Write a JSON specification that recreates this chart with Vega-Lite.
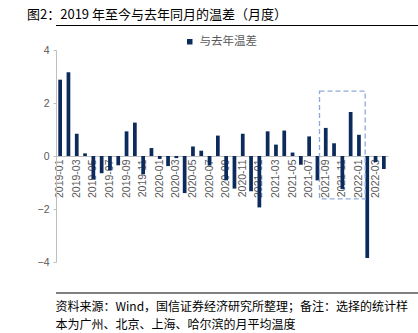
{
  "$schema": "https://vega.github.io/schema/vega-lite/v6.json",
  "padding": {"left": 27, "top": 9, "right": 0, "bottom": 0},
  "spacing": 17,
  "title": {"text": "图2：2019 年至今与去年同月的温差（月度）", "anchor": "start", "fontSize": 13, "offset": 2, "font": "Noto Sans CJK SC", "fontWeight": "normal", "color": "#000000"},
  "config": {
    "view": {"stroke": null},
    "font": "Liberation Sans",
    "title": {"font": "Noto Sans CJK SC", "fontWeight": "normal", "color": "#000000"}
  },
  "vconcat": [
    {
      "width": 378,
      "height": 4,
      "data": {"values": [{"x0": 0, "x1": 1, "y0": 0.5, "y1": 0.75}]},
      "mark": {"type": "rect", "color": "#000000"},
      "encoding": {
        "x": {"field": "x0", "type": "quantitative", "scale": {"domain": [0, 1]}, "axis": null},
        "x2": {"field": "x1"},
        "y": {"field": "y0", "type": "quantitative", "scale": {"domain": [0, 1]}, "axis": null},
        "y2": {"field": "y1"}
      }
    },
    {
      "width": 332,
      "height": 212,
      "layer": [
        {
          "data": {"values": [
            {"month": "2019-01", "diff": 2.88},
            {"month": "2019-02", "diff": 3.16},
            {"month": "2019-03", "diff": 0.84},
            {"month": "2019-04", "diff": 0.10},
            {"month": "2019-05", "diff": -0.89},
            {"month": "2019-06", "diff": -0.65},
            {"month": "2019-07", "diff": -0.53},
            {"month": "2019-08", "diff": -0.35},
            {"month": "2019-09", "diff": 0.93},
            {"month": "2019-10", "diff": 1.26},
            {"month": "2019-11", "diff": -0.69},
            {"month": "2019-12", "diff": 0.30},
            {"month": "2020-01", "diff": -0.11},
            {"month": "2020-02", "diff": -0.38},
            {"month": "2020-03", "diff": -0.08},
            {"month": "2020-04", "diff": -1.40},
            {"month": "2020-05", "diff": 0.36},
            {"month": "2020-06", "diff": 0.20},
            {"month": "2020-07", "diff": -0.36},
            {"month": "2020-08", "diff": 0.77},
            {"month": "2020-09", "diff": -0.92},
            {"month": "2020-10", "diff": -1.23},
            {"month": "2020-11", "diff": 0.84},
            {"month": "2020-12", "diff": -1.33},
            {"month": "2021-01", "diff": -1.94},
            {"month": "2021-02", "diff": 0.93},
            {"month": "2021-03", "diff": 0.43},
            {"month": "2021-04", "diff": 0.96},
            {"month": "2021-05", "diff": 0.13},
            {"month": "2021-06", "diff": -0.33},
            {"month": "2021-07", "diff": 0.74},
            {"month": "2021-08", "diff": -0.92},
            {"month": "2021-09", "diff": 1.06},
            {"month": "2021-10", "diff": 0.48},
            {"month": "2021-11", "diff": -1.25},
            {"month": "2021-12", "diff": 1.66},
            {"month": "2022-01", "diff": 0.80},
            {"month": "2022-02", "diff": -3.85},
            {"month": "2022-03", "diff": -0.23},
            {"month": "2022-04", "diff": -0.49}
          ]},
          "mark": {"type": "bar", "width": {"band": 0.45}},
          "encoding": {
            "x": {
              "field": "month", "type": "ordinal", "sort": null,
              "scale": {"padding": 0},
              "axis": {
                "title": null, "orient": "bottom", "offset": -106,
                "labelAngle": -90, "labelFontSize": 10.5, "labelColor": "#595959",
                "labelPadding": 3, "ticks": false, "domainColor": "#BFBFBF",
                "labelFont": "Liberation Sans",
                "values": ["2019-01","2019-03","2019-05","2019-07","2019-09","2019-11","2020-01","2020-03","2020-05","2020-07","2020-09","2020-11","2021-01","2021-03","2021-05","2021-07","2021-09","2021-11","2022-01","2022-03"]
              }
            },
            "y": {
              "field": "diff", "type": "quantitative",
              "scale": {"domain": [-4, 4], "nice": false},
              "axis": {
                "title": null, "grid": false, "values": [-4,-3,-2,-1,0,1,2,3,4],
                "domainColor": "#BFBFBF", "tickColor": "#BFBFBF", "tickSize": 3,
                "labelColor": "#595959", "labelFontSize": 10.5, "labelPadding": 4,
                "minExtent": 29, "maxExtent": 29
              }
            },
            "color": {
              "datum": "与去年温差",
              "scale": {"range": ["#0C2B5C"]},
              "legend": {
                "title": null, "orient": "none", "legendX": 128, "legendY": 12, "offset": 0,
                "symbolType": "square", "symbolSize": 30, "labelFontSize": 11.5,
                "labelColor": "#595959", "labelFont": "Noto Sans CJK SC"
              }
            }
          }
        },
        {
          "data": {"values": [{"start": "2021-08", "end": "2022-02", "top": 2.45, "bottom": -1.62}]},
          "mark": {"type": "rect", "fill": null, "stroke": "#8FAADC", "strokeDash": [5, 3], "strokeWidth": 1.3},
          "encoding": {
            "x": {"field": "start", "type": "ordinal", "bandPosition": 0.75},
            "x2": {"field": "end", "bandPosition": 0.25},
            "y": {"field": "top", "type": "quantitative"},
            "y2": {"field": "bottom"}
          }
        }
      ]
    },
    {
      "title": {
        "text": ["资料来源：Wind，国信证券经济研究所整理；备注：选择的统计样", "本为广州、北京、上海、哈尔滨的月平均温度"],
        "orient": "bottom", "anchor": "start", "fontSize": 12, "lineHeight": 18, "offset": 8
      },
      "width": 378,
      "height": 8,
      "data": {"values": [{"line": 0}]},
      "mark": {"type": "rule", "color": "#000000", "strokeWidth": 1},
      "encoding": {"y": {"field": "line", "type": "quantitative", "scale": {"domain": [0, 1]}, "axis": null}}
    }
  ]
}
